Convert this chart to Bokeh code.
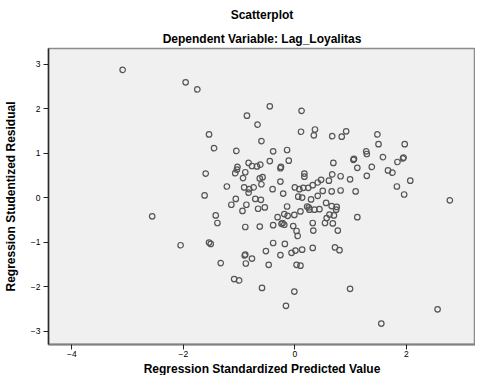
from bokeh.plotting import figure
from bokeh.models import Title, FixedTicker, Range1d
from bokeh.embed import file_html
from bokeh.resources import INLINE

# Regression Standardized Predicted Value
pred = [
    -3.09, -1.96, -1.75, -2.56, -2.05,
    -0.45, 0.12, -0.86, -0.67, -1.54, 0.11, 0.36, 0.34, -0.60, -1.45,
    -1.05, -0.39, -0.14, -0.45, -0.11, -0.83, -0.77, -0.68, -0.62, -1.03,
    -1.04, -0.25, -0.26, -1.07, -0.89, -1.60, 0.17, 0.17, -0.93, -0.63,
    -0.58, -0.26, -0.60, -1.22, -0.91, -0.74, -0.82, -0.83, -0.40, -0.21,
    0.00, 0.08, 0.15, 0.24, 0.32, 0.41, 0.47, -1.62, -1.06, -0.71,
    -0.61, 0.06, 0.13, 0.29, 0.41, 0.50,
    0.67, 0.84, 0.92, 1.48, 1.50, 1.97, 1.28, 1.29, 1.58, 1.95, 1.94,
    1.84, 1.05, 1.06, 0.69, 1.12, 1.38, 1.67, 1.75, 0.67, 0.82, 0.99,
    1.29, 2.07, 1.83, 1.96, 2.78, 0.61, 0.66, 0.82, 1.09,
    -1.14, -0.87, -0.94, -0.66, -0.54, -0.14, 0.22, 0.25, 0.26, 0.35,
    0.44, 0.10, -0.01, -0.13, -0.19, -0.31, -0.22, -0.19, -0.24, -0.39,
    -1.42, -1.39, -0.89, -0.63, -0.03, 0.03, 0.05, 0.32, 0.33, -1.54,
    -1.51, -0.39, -0.18, -0.52, -0.26, -0.06, 0.01, 0.13, 0.32, -0.90,
    -0.89, -0.77, -0.88, -1.33, -0.47, 0.03, 0.10, -1.09, -1.00, -0.59,
    -0.01, -0.16,
    0.56, 0.66, 0.75, 0.74, 0.62, 0.70, 0.57, 1.12, 0.54, 0.68, 0.77,
    0.72, 0.80, 0.99, 2.56, 1.55,
]

# Regression Studentized Residual
resid = [
    2.87, 2.59, 2.43, -0.42, -1.07,
    2.05, 1.95, 1.84, 1.64, 1.42, 1.48, 1.53, 1.40, 1.27, 1.11,
    1.05, 1.04, 1.07, 0.82, 0.83, 0.78, 0.71, 0.70, 0.74, 0.69,
    0.63, 0.69, 0.66, 0.55, 0.57, 0.54, 0.54, 0.47, 0.44, 0.43,
    0.46, 0.36, 0.30, 0.25, 0.23, 0.23, 0.19, 0.11, 0.19, 0.09,
    0.23, 0.19, 0.22, 0.22, 0.28, 0.34, 0.40, 0.05, -0.03, -0.03,
    -0.05, 0.02, 0.00, -0.04, 0.04, 0.15,
    1.38, 1.37, 1.49, 1.42, 1.20, 1.20, 1.04, 0.98, 0.91, 0.90, 0.88,
    0.80, 0.85, 0.87, 0.78, 0.67, 0.69, 0.61, 0.56, 0.52, 0.48, 0.41,
    0.49, 0.38, 0.25, 0.07, -0.06, 0.38, 0.14, 0.16, 0.14,
    -0.16, -0.16, -0.30, -0.25, -0.22, -0.20, -0.20, -0.22, -0.27, -0.27,
    -0.26, -0.31, -0.39, -0.41, -0.37, -0.44, -0.57, -0.61, -0.59, -0.62,
    -0.40, -0.57, -0.66, -0.65, -0.64, -0.75, -0.86, -0.57, -0.74, -1.01,
    -1.04, -1.02, -1.04, -1.20, -1.29, -1.24, -1.19, -1.17, -1.13, -1.30,
    -1.28, -1.37, -1.48, -1.47, -1.51, -1.51, -1.53, -1.83, -1.86, -2.03,
    -2.11, -2.43,
    -0.12, -0.19, -0.21, -0.27, -0.38, -0.40, -0.46, -0.44, -0.57, -0.58, -0.74,
    -1.12, -1.18, -2.05, -2.51, -2.83,
]

x_ticks = [-4, -2, 0, 2]
y_ticks = [-3, -2, -1, 0, 1, 2, 3]

title_main = "Scatterplot"
title_sub = "Dependent Variable: Lag_Loyalitas"
x_label = "Regression Standardized Predicted Value"
y_label = "Regression Studentized Residual"

FONT = "Liberation Sans"

p = figure(width=475, height=375, output_backend="svg", toolbar_location=None,
           x_range=Range1d(-4.42, 3.24), y_range=Range1d(-3.30, 3.35),
           min_border_left=10, min_border_right=0, min_border_top=0, min_border_bottom=0)

p.background_fill_color = "#f0f0f0"
p.border_fill_color = "white"
p.outline_line_color = "#8c8c8c"
p.outline_line_width = 1.5
p.grid.visible = False

sub = Title(text=title_sub, align="center", text_font=FONT, text_font_size="12px",
            text_font_style="bold", text_color="black", standoff=6, offset=-14)
main = Title(text=title_main, align="center", text_font=FONT, text_font_size="12px",
             text_font_style="bold", text_color="black", standoff=10, offset=-14)
p.add_layout(sub, "above")
p.add_layout(main, "above")

for ax in (p.xaxis[0], p.yaxis[0]):
    ax.major_tick_line_color = "#222222"
    ax.major_tick_in = 0
    ax.major_tick_out = 5
    ax.minor_tick_line_color = None
    ax.major_label_text_font = FONT
    ax.major_label_text_font_size = "8.5px"
    ax.major_label_text_color = "black"
    ax.axis_label_text_font = FONT
    ax.axis_label_text_font_size = "12px"
    ax.axis_label_text_font_style = "bold"
    ax.axis_label_text_color = "black"

p.xaxis.axis_line_color = "#808080"
p.xaxis.axis_line_width = 2
p.yaxis.axis_line_color = "#2a2a2a"
p.yaxis.axis_line_width = 1.5

p.xaxis.ticker = FixedTicker(ticks=x_ticks)
p.yaxis.ticker = FixedTicker(ticks=y_ticks)
p.yaxis.axis_label = y_label
p.xaxis.major_label_standoff = 1
p.yaxis.major_label_standoff = 3
p.yaxis.axis_label_standoff = 10

xlab = Title(text=x_label, align="center", text_font=FONT, text_font_size="12px",
             text_font_style="bold", text_color="black", standoff=0, offset=6)
p.add_layout(xlab, "below")

p.scatter(pred, resid, marker="circle", size=5.5, fill_color=None,
          line_color="#555555", line_width=1.2)

open("out.html", "w").write(file_html(p, INLINE))
